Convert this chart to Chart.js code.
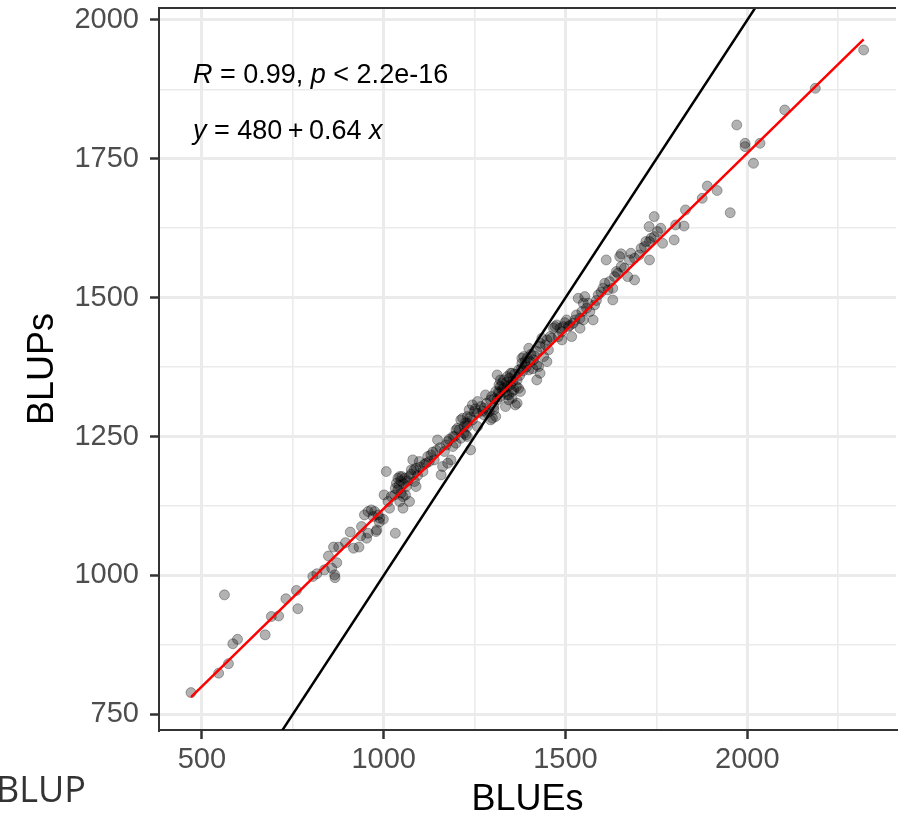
<!DOCTYPE html>
<html>
<head>
<meta charset="utf-8">
<script src="https://cdn.jsdelivr.net/npm/chart.js@4.4.1/dist/chart.umd.min.js"></script>
<style>
  html, body { margin: 0; padding: 0; background: #fff; }
  #wrap { width: 902px; height: 816px; }
</style>
</head>
<body>
<div id="wrap"><canvas id="chart" width="902" height="816"></canvas></div>
<script>
// ---------------------------------------------------------------------------
// Data (BLUEs on x, BLUPs on y)
// ---------------------------------------------------------------------------
const blues = [
  470, 546, 562, 573, 585, 598, 674, 691, 711, 731, 760, 764, 805, 816, 837, 848,
  857, 865, 866, 871, 862, 876, 895, 908, 917, 932, 937, 939, 953, 957, 947, 957,
  966, 975, 971, 985, 981, 989, 999, 1001, 1007, 1012, 1016, 1021, 1032, 1032, 1035, 1039,
  1044, 1050, 1044, 1053, 1048, 1060, 1071, 1062, 1071, 1084, 1080, 979, 988, 1030, 1039, 1053,
  1085, 1089, 1076, 1089, 1098, 1108, 1117, 1121, 1130, 1139, 1148, 1158, 1162, 1167, 1176, 1185,
  1190, 1199, 1203, 1212, 1221, 1230, 1239, 1230, 1244, 1249, 1258, 1267, 1276, 1280, 1285, 1294,
  1303, 1308, 1312, 1321, 1326, 1339, 1335, 1344, 1353, 1367, 1371, 1376, 1421, 1176, 1190, 1199,
  1212, 1221, 1217, 1230, 1235, 1244, 1258, 1276, 1290, 1294, 1299, 1303, 1308, 1312, 1317, 1321,
  1330, 1340, 1344, 1349, 1353, 1358, 1362, 1367, 1371, 1380, 1385, 1389, 1226, 1258, 1230, 1380,
  1390, 1399, 1412, 1421, 1430, 1440, 1449, 1435, 1453, 1467, 1476, 1480, 1490, 1503, 1508, 1517,
  1521, 1530, 1540, 1535, 1549, 1553, 1558, 1567, 1576, 1580, 1590, 1603, 1608, 1617, 1621, 1630,
  1635, 1644, 1653, 1662, 1612, 1649, 1490, 1462, 1426, 1399, 1430, 1349, 1330, 1321, 1340, 1353,
  1317, 1403, 1421, 1494, 1471, 1549, 1540, 1449, 1430, 1676, 1690, 1703, 1717, 1731, 1640, 1671,
  1690, 1630, 1744, 1731, 1653, 1680, 1708, 1721, 1735, 1744, 1730, 1753, 1762, 1767, 1799, 1803,
  1826, 1830, 1876, 1890, 1917, 1953, 1971, 1994, 1994, 2017, 2035, 2103, 2187, 2320,
  1272, 1283, 1297, 1305, 1315, 1326, 1333, 1338, 1346, 1355, 1360, 1365, 1374, 1378, 1383, 1392,
  1395, 1405, 1410, 1415, 1042, 1047, 1055, 1058, 1066, 1075, 1093, 1100, 1112, 1125, 1135, 1145,
  1155, 1172, 1180, 1195, 1208, 1225, 1238, 1252, 1445, 1458, 1485, 1498, 1512, 1526, 1545, 1562,
  1585, 1598
];
const blups = [
  789, 824, 965, 841, 877, 885, 893, 926, 927, 958, 973, 940, 998, 1003, 1010, 1035,
  1013, 1001, 996, 1023, 1051, 1051, 1059, 1078, 1049, 1051, 1071, 1088, 1067, 1076, 1109, 1115,
  1118, 1115, 1106, 1109, 1082, 1103, 1101, 1145, 1187, 1133, 1121, 1142, 1076, 1157, 1166, 1175,
  1178, 1178, 1133, 1121, 1148, 1145, 1133, 1160, 1178, 1190, 1208, 1079, 1096, 1145, 1154, 1142,
  1169, 1160, 1190, 1193, 1205, 1187, 1202, 1214, 1217, 1208, 1244, 1181, 1196, 1223, 1202, 1208,
  1232, 1238, 1265, 1247, 1256, 1250, 1226, 1274, 1280, 1295, 1292, 1304, 1301, 1325, 1292, 1280,
  1298, 1286, 1316, 1322, 1334, 1325, 1304, 1316, 1319, 1310, 1337, 1331, 1352, 1241, 1250, 1262,
  1280, 1268, 1283, 1286, 1298, 1307, 1313, 1289, 1295, 1316, 1283, 1304, 1331, 1361, 1343, 1352,
  1337, 1358, 1325, 1343, 1364, 1334, 1307, 1352, 1370, 1382, 1394, 1385, 1253, 1268, 1268, 1391,
  1379, 1409, 1388, 1403, 1412, 1394, 1385, 1427, 1406, 1445, 1451, 1430, 1439, 1460, 1448, 1430,
  1454, 1469, 1463, 1499, 1490, 1502, 1481, 1475, 1460, 1487, 1505, 1517, 1526, 1514, 1529, 1496,
  1538, 1544, 1556, 1553, 1568, 1574, 1424, 1427, 1376, 1370, 1364, 1364, 1352, 1340, 1340, 1331,
  1328, 1385, 1379, 1448, 1448, 1460, 1445, 1424, 1418, 1568, 1571, 1577, 1592, 1568, 1547, 1538,
  1532, 1517, 1610, 1601, 1579, 1580, 1589, 1601, 1607, 1646, 1628, 1619, 1625, 1598, 1604, 1631,
  1629, 1658, 1679, 1701, 1693, 1653, 1811, 1778, 1772, 1742, 1778, 1838, 1877, 1946,
  1296, 1310, 1322, 1318, 1330, 1346, 1330, 1348, 1355, 1350, 1362, 1340, 1360, 1372, 1368, 1375,
  1392, 1398, 1372, 1395, 1162, 1170, 1165, 1175, 1170, 1182, 1180, 1195, 1200, 1205, 1222, 1225,
  1230, 1235, 1245, 1250, 1262, 1275, 1285, 1300, 1415, 1430, 1445, 1455, 1450, 1460, 1475, 1490,
  1495, 1510
];

// fitted line ends (y = 480 + 0.64 x) and the 1:1 reference line
const fitX = [470, 2320];
const fitY = [781, 1965];
const oneToOne = [600, 2200];

// axis ranges, breaks (major + minor) and labelled ticks
const xRange = [382, 2409];
const yRange = [721.7, 2021.6];
const xBreaks = [500, 750, 1000, 1250, 1500, 1750, 2000, 2250];
const yBreaks = [750, 875, 1000, 1125, 1250, 1375, 1500, 1625, 1750, 1875, 2000];
const xLabels = [500, 1000, 1500, 2000];
const yLabels = [750, 1000, 1250, 1500, 1750, 2000];

// ---------------------------------------------------------------------------
Chart.defaults.font.family = "'Liberation Sans', Arial, sans-serif";

const GRID = '#ebebeb';
const DARK = '#333333';

function gridStyle(labels) {
  return {
    color: GRID,
    lineWidth: c => (c.tick && labels.includes(c.tick.value) ? 3 : 1.6),
    drawTicks: true,
    tickLength: 9,
    tickWidth: 2.5,
    tickColor: c => (c.tick && labels.includes(c.tick.value) ? DARK : 'rgba(0,0,0,0)'),
  };
}

function richText(ctx, parts, x, y) {
  for (const [txt, italic] of parts) {
    ctx.font = (italic ? 'italic ' : '') + "27px 'Liberation Sans', Arial, sans-serif";
    ctx.fillText(txt, x, y);
    x += ctx.measureText(txt).width;
  }
}

const decor = {
  id: 'decor',
  beforeDraw(chart) {
    const { ctx, width, height } = chart;
    ctx.save();
    ctx.fillStyle = '#fff';
    ctx.fillRect(0, 0, width, height);
    ctx.restore();
  },
  afterDraw(chart) {
    const { ctx, chartArea: a } = chart;
    ctx.save();
    // top panel border
    ctx.strokeStyle = DARK;
    ctx.lineWidth = 2;
    ctx.beginPath();
    ctx.moveTo(a.left, a.top);
    ctx.lineTo(a.right, a.top);
    ctx.stroke();

    // stat annotations
    ctx.fillStyle = '#000';
    ctx.textBaseline = 'alphabetic';
    richText(ctx, [['R', true], [' = 0.99, ', false], ['p', true], [' < 2.2e-16', false]], a.left + 34, a.top + 75);
    richText(ctx, [['y', true], [' = 480\u2009+\u20090.64 ', false], ['x', true]], a.left + 34, a.top + 131);

    // stray label cut at the bottom-left edge
    ctx.fillStyle = DARK;
    ctx.font = "36px 'Open Sans', sans-serif";
    ctx.fillText('BLUP', -4, 802);
    ctx.restore();
  },
};

new Chart(document.getElementById('chart'), {
  type: 'scatter',
  data: {
    datasets: [
      {
        label: 'BLUPs',
        data: blues.map((x, i) => ({ x, y: blups[i] })),
        pointRadius: 5,
        pointHoverRadius: 5,
        backgroundColor: 'rgba(0,0,0,0.3)',
        borderColor: 'rgba(0,0,0,0.3)',
        borderWidth: 1,
        order: 3,
      },
      {
        label: '1:1',
        data: oneToOne.map(v => ({ x: v, y: v })),
        showLine: true,
        pointRadius: 0,
        borderColor: '#000',
        borderWidth: 2.5,
        order: 2,
      },
      {
        label: 'fit',
        data: fitX.map((x, i) => ({ x, y: fitY[i] })),
        showLine: true,
        pointRadius: 0,
        borderColor: '#ff0000',
        borderWidth: 2.5,
        order: 1,
      },
    ],
  },
  options: {
    responsive: false,
    animation: false,
    layout: { padding: { top: 8, right: 0, bottom: 0, left: 0 } },
    plugins: {
      legend: { display: false },
      tooltip: { enabled: false },
    },
    scales: {
      x: {
        type: 'linear',
        position: 'bottom',
        min: xRange[0],
        max: xRange[1],
        afterBuildTicks(s) { s.ticks = xBreaks.map(v => ({ value: v })); },
        afterFit(s) { s.height = 86; s.paddingLeft = 0; s.paddingRight = 0; },
        ticks: {
          autoSkip: false,
          maxRotation: 0,
          padding: 4,
          color: '#4d4d4d',
          font: { size: 29 },
          callback: v => (xLabels.includes(v) ? String(v) : ''),
        },
        grid: gridStyle(xLabels),
        border: { color: DARK, width: 2 },
        title: {
          display: true,
          text: 'BLUEs',
          color: '#000',
          font: { size: 36, lineHeight: 0.9 },
          padding: 0,
        },
      },
      y: {
        type: 'linear',
        min: yRange[0],
        max: yRange[1],
        afterBuildTicks(s) { s.ticks = yBreaks.map(v => ({ value: v })); },
        afterFit(s) { s.width = 159; s.paddingTop = 0; s.paddingBottom = 0; },
        ticks: {
          autoSkip: false,
          padding: 11,
          color: '#4d4d4d',
          font: { size: 29 },
          callback: v => (yLabels.includes(v) ? String(v) : ''),
        },
        grid: gridStyle(yLabels),
        border: { color: DARK, width: 2 },
        title: {
          display: true,
          text: 'BLUPs',
          color: '#000',
          font: { size: 36, lineHeight: 0.9 },
          padding: { top: 27, bottom: 0 },
        },
      },
    },
  },
  plugins: [decor],
});
</script>
</body>
</html>
